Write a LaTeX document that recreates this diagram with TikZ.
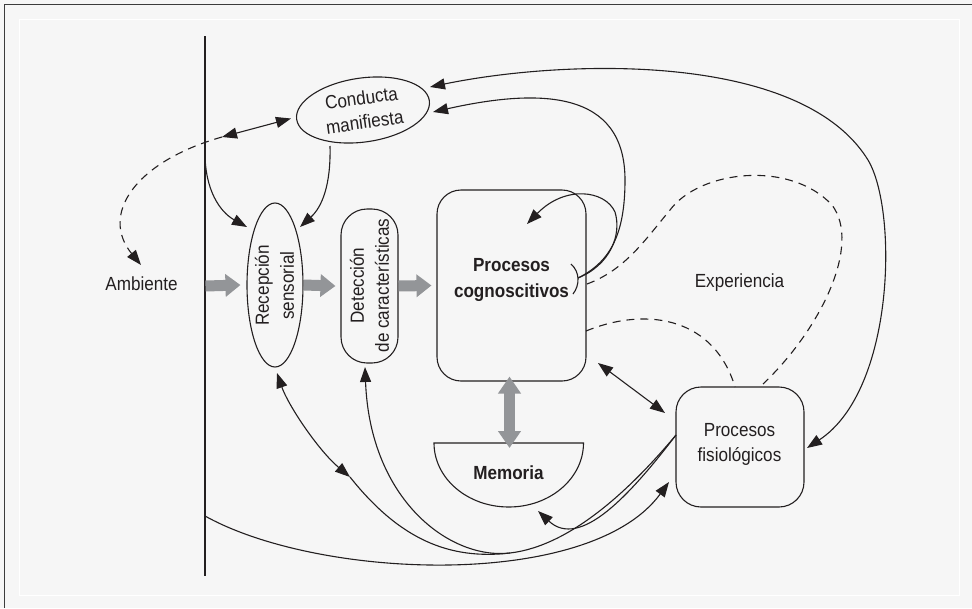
\documentclass[tikz,border=0pt]{standalone}
\usepackage{fontspec}
\setmainfont{Liberation Sans}[FakeStretch=0.9]
\usetikzlibrary{arrows.meta,shapes.geometric}
\definecolor{ink}{RGB}{35,31,32}
\definecolor{bgc}{RGB}{246,246,246}
\definecolor{garr}{RGB}{147,149,152}
\definecolor{frame}{RGB}{60,60,60}
\tikzset{
  conn/.style={line width=1.1pt, draw=ink},
  ar/.style={-{Triangle[length=15pt,width=11pt]}},
  rar/.style={{Triangle[length=15pt,width=11pt]}-},
  dar/.style={{Triangle[length=15pt,width=11pt]}-{Triangle[length=15pt,width=11pt]}},
  dsh/.style={dash pattern=on 8pt off 6pt},
  txt/.style={font=\fontsize{19}{25}\selectfont, text=ink, inner sep=0pt, align=center},
  box/.style={draw=ink, line width=1.1pt, inner sep=0pt},
  gar/.style={draw=garr, line width=11pt, -{Triangle[length=15pt,width=22pt]}},
  gdar/.style={draw=garr, line width=11pt, {Triangle[length=17pt,width=22pt]}-{Triangle[length=17pt,width=22pt]}}
}
\begin{document}
\begin{tikzpicture}[x=1pt,y=-1pt]
\useasboundingbox (0,0) rectangle (972,608);
\fill[bgc] (0,0) rectangle (972,608);
\draw[frame, line width=1.5pt] (4.5,608) -- (4.5,4.5) -- (972,4.5);
\draw[white, line width=1pt] (19,19) rectangle (959,595);

% environment boundary line
\coordinate (vtop) at (205,36);
\coordinate (vbot) at (205,576);
\draw[conn] (vtop) -- (vbot);
\coordinate (vA) at (205.5,286);
\coordinate (vB) at (205,153);
\coordinate (vC) at (205,516);

% nodes
\node[box, ellipse, minimum width=134pt, minimum height=64pt, rotate=8, txt, font=\fontsize{19}{24}\selectfont] (conducta) at (363,110) {Conducta\\manifiesta};
\node[box, ellipse, minimum width=56pt, minimum height=164pt] (recep) at (275,285) {};
\node[txt, rotate=90] (recept) at (274.5,285.5) {Recepción\\sensorial};
\node[box, rounded corners=26pt, minimum width=57pt, minimum height=154pt] (detec) at (369.5,286) {};
\node[txt, rotate=90] (detect) at (369.5,285.5) {Detección\\de características};
\node[box, rounded corners=24pt, minimum width=149pt, minimum height=191pt] (cog) at (511.5,285.5) {};
\node[txt, font=\fontsize{19}{26}\selectfont\bfseries] (cogt) at (511.5,280) {Procesos\\cognoscitivos};
\node[box, rounded corners=25pt, minimum width=128pt, minimum height=120pt] (fis) at (740,447) {};
\node[txt] (fist) at (739.5,444.5) {Procesos\\fisiológicos};
\draw[conn] (434,443) -- (583.5,443) arc[start angle=0, end angle=-180, x radius=74.75pt, y radius=64pt] -- cycle;
\coordinate (memtop) at (509.5,443);
\node[txt, anchor=base, font=\fontsize{19}{25}\selectfont\bfseries] (memoria) at (508.5,479) {Memoria};
\node[txt, anchor=base] (amb) at (141.5,290) {Ambiente};
\node[txt, anchor=base] (exp) at (739.5,287) {Experiencia};

% gray flow arrows
\draw[gar] (vA) -- ([xshift=-6pt]recep.west);
\draw[gar] (recep.east) -- ([xshift=-5pt]detec.west);
\draw[gar] (detec.east) -- ([xshift=-5pt]cog.west);
\draw[gdar] ([yshift=5pt]cog.south -| memtop) -- ([yshift=-5pt]memtop);

% tip coordinates
\coordinate (cmL) at (222,137);
\coordinate (cmW) at (291,118.5);
\coordinate (ambT) at (141,265);
\coordinate (recTL) at (247,227);
\coordinate (cmB) at (330,146);
\coordinate (recTR) at (300,227);
\coordinate (cmR1) at (430,87);
\coordinate (fisR) at (807,448);
\coordinate (cmR2) at (433,112);
\coordinate (loop) at (578,278);
\coordinate (cogIn) at (527,224);
\coordinate (cogE1) at (587,284);
\coordinate (fisT1) at (763,384);
\coordinate (cogE2) at (586,331);
\coordinate (fisT2) at (735,387);
\coordinate (cogSE) at (598,363);
\coordinate (fisNW) at (665,413);
\coordinate (recB) at (277,373);
\coordinate (mid1) at (350,477);
\coordinate (bot) at (510,553);
\coordinate (fisL) at (676,435);
\coordinate (detB) at (365,367);
\coordinate (memB) at (538,511);
\coordinate (fisL2) at (669,482);

% connectors
\draw[conn,dar] (cmL) -- (cmW);
\draw[conn,dsh,ar] (cmL) .. controls (134,162) and (100,215) .. (ambT);
\draw[conn,ar] (vB) .. controls (205,190) and (220,212) .. (recTL);
\draw[conn,ar] (cmB) .. controls (331,185) and (322,207) .. (recTR);
\draw[conn,dar] (cmR1) .. controls (560,60) and (800,50) .. (868,160) .. controls (898,210) and (895,390) .. (fisR);
\draw[conn,ar] (loop) .. controls (610,262) and (625,235) .. (625,180) .. controls (625,90) and (540,88) .. (cmR2);
\draw[conn,ar] (loop) .. controls (610,265) and (622,235) .. (615,212) .. controls (605,190) and (565,185) .. (cogIn);
\draw[conn] (571,264) .. controls (580,272) and (580,285) .. (573,294);
\draw[conn,dsh] (cogE1) .. controls (625,270) and (645,240) .. (670,210) .. controls (700,170) and (790,160) .. (832,205) .. controls (862,245) and (820,330) .. (fisT1);
\draw[conn,dsh] (cogE2) .. controls (650,305) and (715,320) .. (fisT2);
\draw[conn,dar] (cogSE) -- (fisNW);
\draw[conn,dar] (recB) .. controls (288,405) and (318,450) .. (mid1);
\draw[conn] (mid1) .. controls (400,540) and (450,560) .. (bot) .. controls (570,546) and (630,490) .. (fisL);
\draw[conn,ar] (bot) .. controls (450,560) and (370,500) .. (detB);
\draw[conn,ar] (fisL) .. controls (630,495) and (580,550) .. (memB);
\draw[conn,ar] (vC) .. controls (320,580) and (590,590) .. (fisL2);
\end{tikzpicture}
\end{document}
